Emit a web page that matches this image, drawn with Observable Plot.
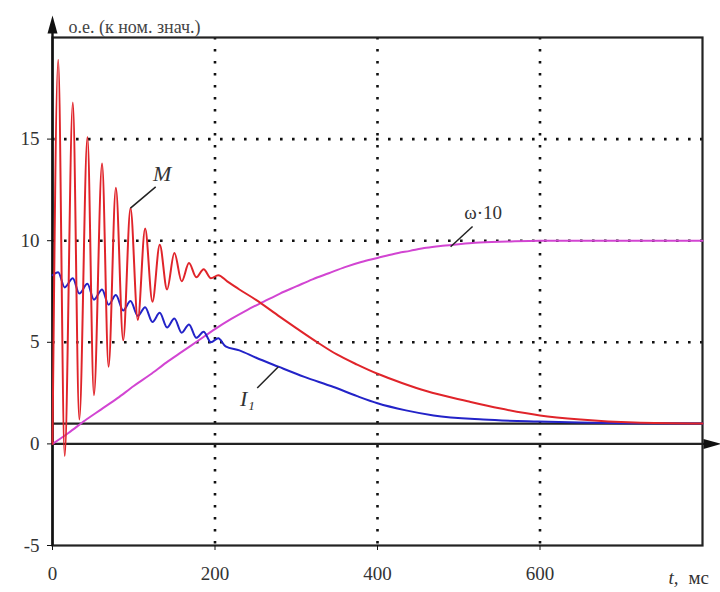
<!DOCTYPE html>
<html><head><meta charset="utf-8">
<script src="https://cdn.jsdelivr.net/npm/d3@7"></script>
<script src="https://cdn.jsdelivr.net/npm/@observablehq/plot@0.6"></script>
<style>body{margin:0;background:#fff}</style>
</head><body><div id="chart"></div>
<script>
// Torque M (red)
const mTime  = [0, 7, 15, 25, 33, 43, 51, 61, 69, 78, 87, 96, 105, 114, 123, 132, 141, 150, 159, 168, 177, 186, 195, 204, 215, 230, 250, 280, 300, 326, 350, 375, 400, 430, 460, 511, 550, 600, 650, 716, 800];
const mValue = [0, 18.9, -0.6, 16.8, 1.2, 15.1, 2.4, 13.8, 3.8, 12.6, 5.1, 11.6, 6.1, 10.6, 7.0, 9.8, 7.6, 9.4, 8.0, 8.9, 8.2, 8.6, 8.15, 8.3, 8.0, 7.6, 7.1, 6.25, 5.7, 5.0, 4.4, 3.9, 3.45, 3.0, 2.6, 2.1, 1.75, 1.4, 1.2, 1.05, 1.0];
// Current I1 (blue)
const iTime  = [0, 7, 15, 25, 33, 43, 51, 61, 69, 78, 87, 96, 105, 114, 123, 132, 141, 150, 159, 168, 177, 186, 195, 204, 213, 230, 250, 278, 310, 346, 375, 400, 435, 469, 530, 598, 700, 800];
const iValue = [8.3, 8.45, 7.7, 8.15, 7.4, 7.88, 7.1, 7.6, 6.85, 7.33, 6.57, 7.03, 6.3, 6.73, 6.0, 6.45, 5.73, 6.17, 5.47, 5.88, 5.22, 5.52, 5.0, 5.2, 4.8, 4.6, 4.25, 3.8, 3.3, 2.8, 2.35, 2.0, 1.65, 1.4, 1.2, 1.1, 1.02, 1.0];
// Speed ω·10 (magenta)
const wTime  = [0, 20, 40, 60, 80, 100, 120, 140, 160, 180, 200, 220, 240, 260, 280, 300, 320, 340, 360, 380, 400, 420, 440, 460, 480, 500, 520, 560, 600, 700, 800];
const wValue = [0, 0.55, 1.15, 1.7, 2.25, 2.85, 3.4, 4.0, 4.55, 5.1, 5.65, 6.15, 6.6, 7.0, 7.4, 7.75, 8.1, 8.4, 8.7, 8.95, 9.15, 9.35, 9.5, 9.65, 9.75, 9.83, 9.9, 9.96, 10, 10, 10];

const xTicks = [0, 200, 400, 600];
const yTicks = [-5, 0, 5, 10, 15];
const xGrid = [200, 400, 600];
const yGrid = [5, 10, 15];
const yTitle = "о.е. (к ном. знач.)";
const seriesLabels = ["M", "I₁", "ω·10"];
const xUnitVar = "t,";
const xUnit = "мс";

const toRows = (ts, vs) => ts.map((t, i) => ({t, v: vs[i]}));
const mData = toRows(mTime, mValue);
const iData = toRows(iTime, iValue);
const wData = toRows(wTime, wValue);

const arrowUp = {draw(c) { c.moveTo(0, -9); c.lineTo(5, 9); c.lineTo(-5, 9); c.closePath(); }};
const arrowRight = {draw(c) { c.moveTo(9, 0); c.lineTo(-9, -5); c.lineTo(-9, 5); c.closePath(); }};

const serif = "Liberation Serif";
const dotted = {stroke: "#111", strokeWidth: 2.6, strokeDasharray: "2.6 9.4"};

const chart = Plot.plot({
  width: 720, height: 592,
  marginLeft: 52, marginRight: 18, marginTop: 37, marginBottom: 47,
  x: {domain: [0, 800]},
  y: {domain: [-5, 20]},
  style: {fontFamily: serif, fontSize: "19px"},
  marks: [
    Plot.ruleX(xGrid, dotted),
    Plot.ruleY(yGrid, dotted),
    Plot.ruleY([1], {stroke: "#222", strokeWidth: 2.2}),
    Plot.ruleY([0], {x1: 0, x2: 812, stroke: "#222", strokeWidth: 2.2}),
    Plot.frame({stroke: "#222", strokeWidth: 2.2}),
    Plot.ruleX([0], {y1: -5, y2: 20.5, stroke: "#111", strokeWidth: 2.4}),
    Plot.dot([0], {x: 800, y: 0, dx: 10, symbol: arrowRight, fill: "#111", stroke: null}),
    Plot.dot([0], {x: 0, y: 20, dy: -13, symbol: arrowUp, fill: "#111", stroke: null}),
    Plot.line(wData, {x: "t", y: "v", stroke: "#d245d2", strokeWidth: 2, curve: "monotone-x"}),
    Plot.line(iData, {x: "t", y: "v", stroke: "#2323c8", strokeWidth: 2, curve: "monotone-x"}),
    Plot.line(mData, {x: "t", y: "v", stroke: "#e0242a", strokeWidth: 2, curve: "monotone-x"}),
    Plot.axisY(yTicks, {tickSize: 5, tickPadding: 8, tickFormat: d => String(d), label: null, fill: "#333", stroke: "#111", fontSize: 19, fontFamily: serif}),
    Plot.axisX(xTicks, {tickSize: 5, tickPadding: 16, tickFormat: d => String(d), label: null, fill: "#333", stroke: "#111", fontSize: 19, fontFamily: serif}),
    // leader lines
    Plot.link([0], {x1: 96, y1: 11.6, x2: 127, y2: 12.65, stroke: "#222", strokeWidth: 1.5}),
    Plot.link([0], {x1: 278, y1: 3.8, x2: 252, y2: 2.75, stroke: "#222", strokeWidth: 1.5}),
    Plot.link([0], {x1: 490, y1: 9.7, x2: 517, y2: 10.7, stroke: "#222", strokeWidth: 1.5}),
    // labels
    Plot.text([seriesLabels[0]], {x: 135, y: 13.3, text: d => d, fontStyle: "italic", fontSize: 22, fill: "#333", fontFamily: serif}),
    Plot.text([seriesLabels[1]], {x: 240, y: 2.2, text: d => d, fontStyle: "italic", fontSize: 22, fill: "#333", fontFamily: serif}),
    Plot.text([seriesLabels[2]], {x: 530, y: 11.35, text: d => d, fontSize: 19, fill: "#333", fontFamily: serif}),
    Plot.text([yTitle], {x: 0, y: 20, dx: 16, dy: -10, text: d => d, textAnchor: "start", fontSize: 18, fill: "#444", fontFamily: serif}),
    Plot.text([xUnitVar], {x: 800, y: -5, dx: -34, dy: 32, text: d => d, textAnchor: "start", fontStyle: "italic", fontSize: 19, fill: "#333", fontFamily: serif}),
    Plot.text([xUnit], {x: 800, y: -5, dx: -14, dy: 32, text: d => d, textAnchor: "start", fontSize: 19, fill: "#333", fontFamily: serif})
  ]
});
chart.querySelectorAll("text").forEach(t => { t.setAttribute("font-family", serif); t.style.fontFamily = "'Liberation Serif', serif"; });
document.getElementById("chart").append(chart);
</script>
</body></html>
